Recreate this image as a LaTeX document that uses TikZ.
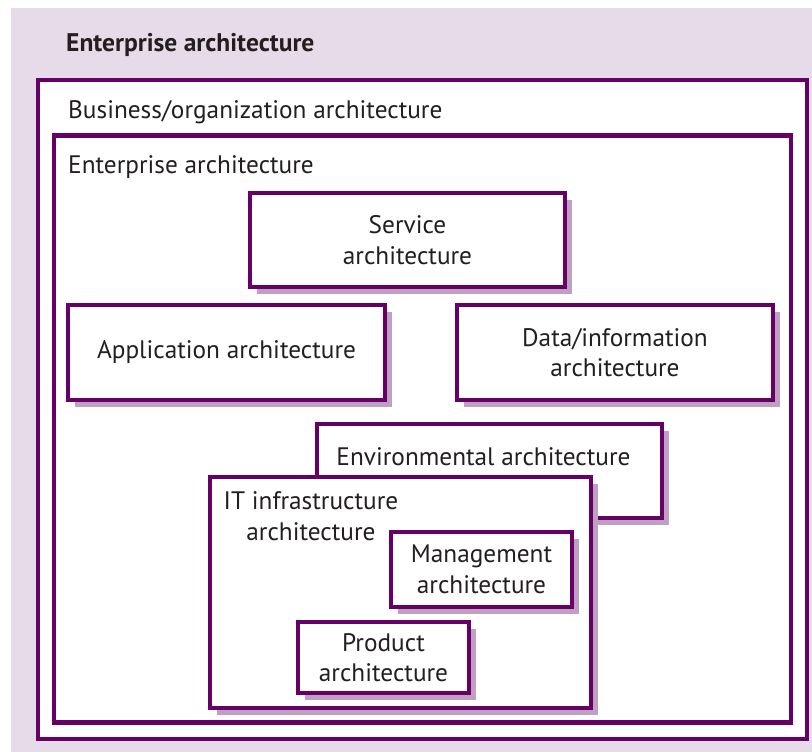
\documentclass[tikz,border=0pt]{standalone}
\usepackage{fontspec}
\setmainfont{PT Sans}
\usetikzlibrary{shadows}
\definecolor{archpurple}{RGB}{102,0,102}
\definecolor{archshadow}{RGB}{190,160,195}
\definecolor{archback}{RGB}{230,220,233}
\definecolor{archtext}{RGB}{35,31,32}

\begin{document}
\begin{tikzpicture}[x=1pt,y=-1pt,
        font=\fontsize{25.3}{30.5}\selectfont,
        frame/.style={draw=archpurple, fill=white, line width=4.5pt,
                        inner sep=0pt},
        box/.style={draw=archpurple, fill=white, line width=3.2pt,
                        align=center, inner sep=0pt, text=archtext,
                        drop shadow={shadow xshift=7pt, shadow yshift=-7pt,
                                fill=archshadow, opacity=1}},
        lbl/.style={anchor=base west, inner sep=0pt, text=archtext},
        txt/.style={align=center, inner sep=0pt, text=archtext}]
    \useasboundingbox (0,0) rectangle (812,752);
    \fill[archback] (11,8) rectangle (812,752);
    \node[lbl, font=\bfseries\fontsize{25.5}{30.5}\selectfont] (title)
        at (66,52) {Enterprise architecture};
    % nested frames
    \node[frame, minimum width=769pt, minimum height=659pt] (business)
        at (422.5,409.5) {};
    \node[lbl] (businesslabel) at (68,118) {Business/organization architecture};
    \node[frame, minimum width=737pt, minimum height=587pt] (enterprise)
        at (422.5,429) {};
    \node[lbl] (enterpriselabel) at (68,173) {Enterprise architecture};
    % architecture boxes
    \node[box, minimum width=315pt, minimum height=94pt] (service)
        at (407.5,240) {Service\\architecture};
    \node[box, minimum width=317pt, minimum height=95pt] (application)
        at (226.5,352.5) {Application architecture};
    \node[box, minimum width=316pt, minimum height=95pt] (data)
        at (615,352.5) {Data/information\\architecture};
    \node[box, minimum width=345pt, minimum height=94pt] (environmental)
        at (489.5,471) {};
    \node[txt] (environmentallabel) at (483.5,457) {Environmental architecture};
    \node[box, minimum width=381pt, minimum height=231pt] (infrastructure)
        at (400.5,592.5) {};
    \node[txt] (infrastructurelabel) at (311,516) {IT infrastructure\\architecture};
    \node[box, minimum width=181pt, minimum height=75pt] (management)
        at (481.5,569.5) {Management\\architecture};
    \node[box, minimum width=171pt, minimum height=71pt] (product)
        at (383.5,657.5) {Product\\architecture};
\end{tikzpicture}
\end{document}
